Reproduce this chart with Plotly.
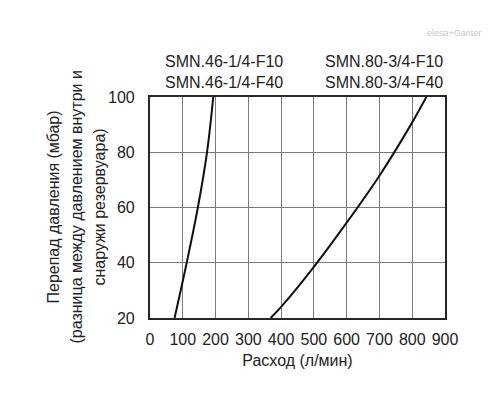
import plotly.graph_objects as go

# Data
flow_46 = [75, 112, 146, 174, 193]          # л/мин
dp_46 = [20, 40, 60, 80, 100]               # мбар
flow_80 = [368, 400, 500, 600, 700, 796, 843]
dp_80 = [20, 24, 38.5, 54.5, 71.5, 90, 100]

label_46 = "SMN.46-1/4-F10<br>SMN.46-1/4-F40"
label_80 = "SMN.80-3/4-F10<br>SMN.80-3/4-F40"
x_title = "Расход (л/мин)"
y_title_lines = [
    "Перепад давления (мбар)",
    "(разница между давлением внутри и",
    "снаружи резервуара)",
]

FONT = "Liberation Sans, Arial, sans-serif"

fig = go.Figure()
for fx, fy in [(flow_46, dp_46), (flow_80, dp_80)]:
    fig.add_trace(go.Scatter(x=fx, y=fy, mode="lines",
                             line=dict(color="#111111", width=2, shape="spline", smoothing=1.0),
                             showlegend=False, hoverinfo="skip"))

fig.update_layout(
    width=500, height=400,
    margin=dict(l=150, r=55, t=97, b=82),
    paper_bgcolor="white", plot_bgcolor="white",
    font=dict(family=FONT, size=16, color="#222222"),
)
fig.update_xaxes(range=[0, 900], dtick=100, showgrid=True, gridcolor="#7a7a7a", gridwidth=1.3,
                 showline=True, mirror=True, linecolor="#262626", linewidth=2.2,
                 zeroline=False, ticks="", ticklabelstandoff=6,
                 title=dict(text=x_title, font=dict(size=16), standoff=8))
fig.update_yaxes(range=[20, 100], dtick=20, showgrid=True, gridcolor="#7a7a7a", gridwidth=1.3,
                 showline=True, mirror=True, linecolor="#262626", linewidth=2.2,
                 zeroline=False, ticks="", ticklabelstandoff=10)

# Top labels above the curves
for lbl, cx in [(label_46, 227), (label_80, 713)]:
    fig.add_annotation(text=lbl, x=cx, y=1.113, xref="x", yref="paper", showarrow=False,
                       xanchor="center", yanchor="middle", font=dict(size=16), align="center")

# Y-axis title, three rotated lines
for i, line in enumerate(y_title_lines):
    px = 53 + i * 23
    fig.add_annotation(text=line, x=(px - 150) / 295, y=0.5, xref="paper", yref="paper",
                       showarrow=False, textangle=-90, xanchor="center", yanchor="middle",
                       font=dict(size=16))

# Watermark
fig.add_annotation(text="elesa+Ganter", x=1.13, y=1.29, xref="paper", yref="paper",
                   showarrow=False, xanchor="right", yanchor="middle",
                   font=dict(size=9, color="#c8c8c8"))

fig.write_html("out.html")
